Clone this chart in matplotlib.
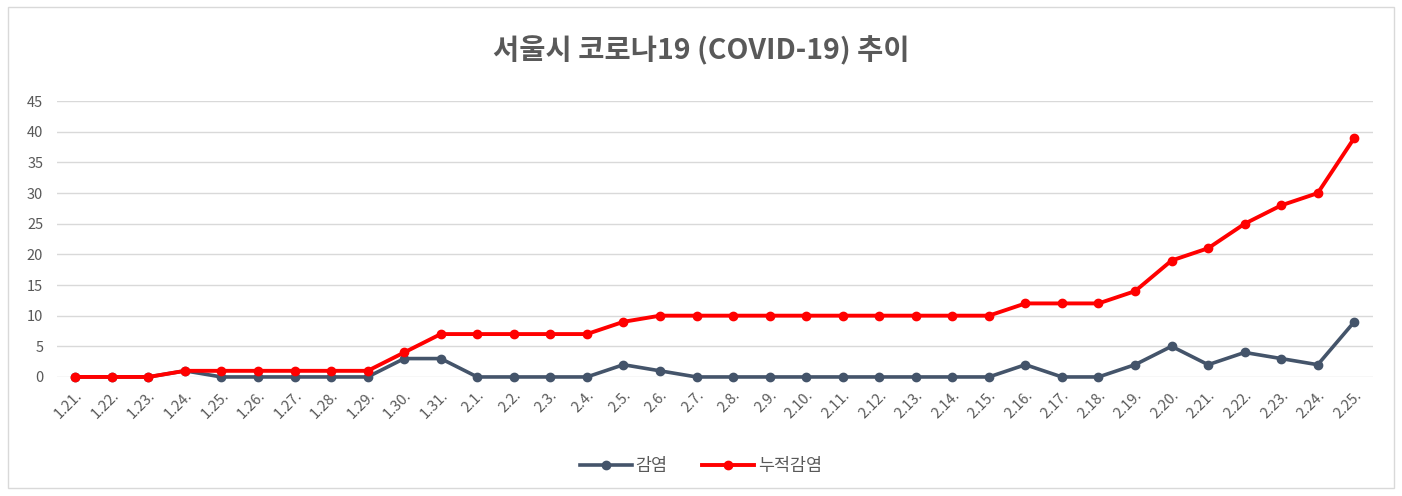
import matplotlib.pyplot as plt
from matplotlib.patches import Rectangle

plt.rcParams['font.family'] = ['Noto Sans CJK KR', 'DejaVu Sans']

dates = [
    '1.21.', '1.22.', '1.23.', '1.24.', '1.25.', '1.26.', '1.27.', '1.28.',
    '1.29.', '1.30.', '1.31.', '2.1.', '2.2.', '2.3.', '2.4.', '2.5.', '2.6.',
    '2.7.', '2.8.', '2.9.', '2.10.', '2.11.', '2.12.', '2.13.', '2.14.',
    '2.15.', '2.16.', '2.17.', '2.18.', '2.19.', '2.20.', '2.21.', '2.22.',
    '2.23.', '2.24.', '2.25.'
]
daily = [0, 0, 0, 1, 0, 0, 0, 0, 0, 3, 3, 0, 0, 0, 0, 2, 1, 0, 0, 0, 0, 0,
         0, 0, 0, 0, 2, 0, 0, 2, 5, 2, 4, 3, 2, 9]
cumulative = [0, 0, 0, 1, 1, 1, 1, 1, 1, 4, 7, 7, 7, 7, 7, 9, 10, 10, 10, 10,
              10, 10, 10, 10, 10, 10, 12, 12, 12, 14, 19, 21, 25, 28, 30, 39]
y_ticks = [0, 5, 10, 15, 20, 25, 30, 35, 40, 45]

text_color = '#595959'

fig = plt.figure(figsize=(14.02, 4.96), dpi=100)
ax = fig.add_axes([0.0407, 0.240, 0.9383, 0.556])

x = list(range(len(dates)))
ax.plot(x, daily, color='#44546A', lw=2.6, marker='o', ms=6,
        label='감염', clip_on=False, zorder=3)
ax.plot(x, cumulative, color='#FF0000', lw=2.8, marker='o', ms=6,
        label='누적감염', clip_on=False, zorder=4)

ax.set_xlim(-0.5, len(dates) - 0.5)
ax.set_ylim(0, 45)
ax.set_yticks(y_ticks)
ax.set_xticks(x)
ax.set_xticklabels(dates, rotation=45, ha='right', rotation_mode='anchor')
ax.tick_params(axis='both', length=0, labelsize=10.5, colors=text_color)
ax.tick_params(axis='x', pad=8)
ax.tick_params(axis='y', pad=10)
for s in ax.spines.values():
    s.set_visible(False)
ax.grid(axis='y', color='#D9D9D9', lw=1)
ax.set_axisbelow(True)

fig.text(0.5, 0.897, '서울시 코로나19 (COVID-19) 추이', ha='center', va='center',
         fontsize=20.5, fontweight='bold', color=text_color)

fig.legend(loc='center', bbox_to_anchor=(0.5, 0.06), ncol=2, frameon=False,
           fontsize=12.5, handlelength=3, columnspacing=2, handletextpad=0.2,
           labelcolor=text_color)

fig.patches.append(Rectangle((0.006, 0.016), 0.988, 0.97, transform=fig.transFigure,
                             fill=False, edgecolor='#D9D9D9', lw=1))

fig.savefig('out.png', dpi=100)
